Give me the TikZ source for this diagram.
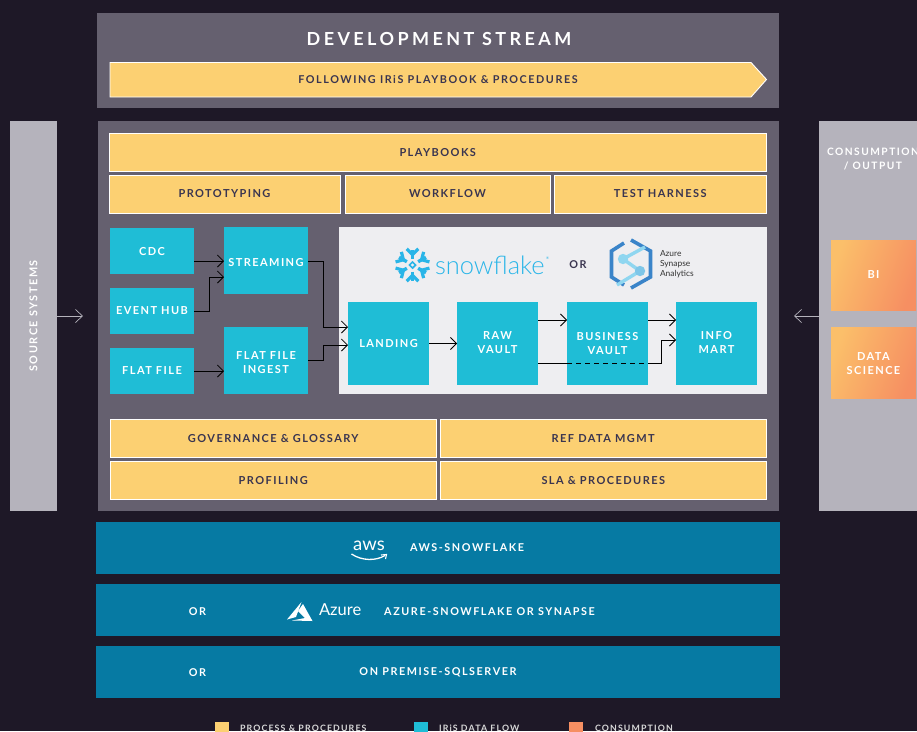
\documentclass[tikz,border=0pt]{standalone}
\usepackage{fontspec}
\usetikzlibrary{arrows.meta,calc}
\setmainfont{Lato}[LetterSpace=13]
\newfontfamily\wide{Lato}[LetterSpace=14.5]
\newfontfamily\widest{Lato}[LetterSpace=19]
\newfontfamily\logo{Lato Light}
\newfontfamily\logoreg{Lato}
\definecolor{bgc}{HTML}{1E1827}
\definecolor{panel}{HTML}{65606F}
\definecolor{sidec}{HTML}{B5B3BC}
\definecolor{yel}{HTML}{FCD072}
\definecolor{cya}{HTML}{1FBDD6}
\definecolor{teal}{HTML}{067AA3}
\definecolor{inkc}{HTML}{3A3550}
\definecolor{paper}{HTML}{EEEEF1}
\definecolor{sfblue}{HTML}{29B5E8}
\definecolor{oa}{HTML}{FBBF6A}
\definecolor{ob}{HTML}{F68F62}
\definecolor{hexb}{HTML}{3A84C9}
\definecolor{hexl}{HTML}{8FD6F0}
\tikzset{
  box/.style={inner sep=0pt,outer sep=0pt,align=center,font=\fontsize{11}{14.5}\selectfont\bfseries},
  panelbox/.style={box,fill=panel},
  sidebox/.style={box,fill=sidec},
  procbox/.style={box,fill=yel,draw=white,line width=.9pt,text=inkc},
  flowbox/.style={box,fill=cya,text=white},
  tealbox/.style={box,fill=teal},
  consbox/.style={box,left color=oa,right color=ob,shading angle=70,text=white},
  lab/.style={inner sep=0pt,outer sep=0pt,align=center,text=white,font=\fontsize{10.8}{14}\selectfont\bfseries\wide},
  flow/.style={draw=black,line width=.9pt,-{Straight Barb[length=6pt,width=12pt,line width=.8pt]}},
  plainflow/.style={draw=black,line width=.9pt},
  sidearrow/.style={draw=sidec,line width=.8pt,-{Straight Barb[length=7pt,width=13pt,line width=.7pt]}},
}
% name, x0, y0, x1, y1, style, text
\newcommand{\bx}[7]{\node[#6,minimum width={(#4-#2)*1pt},minimum height={(#5-#3)*1pt}] (#1) at ({(#2+#4)/2},{(#3+#5)/2}) {#7};}
\newcommand{\dn}[2]{\raisebox{-#1pt}[\height][\depth]{#2}}
\begin{document}
\begin{tikzpicture}[x=1pt,y=-1pt]
\useasboundingbox (0,0) rectangle (917,731);
\clip (0,0) rectangle (917,731);
\fill[bgc] (0,0) rectangle (917,731);
% panels
\bx{dev}{97}{13}{779}{108}{panelbox}{}
\bx{main}{98}{121}{779}{511}{panelbox}{}
\bx{src}{10}{121}{57}{511}{sidebox}{}
\bx{cons}{819}{121}{917}{511}{sidebox}{}
\node[lab,font=\fontsize{18}{20}\selectfont\bfseries\widest] (devt) at (439,38.5) {DEVELOPMENT STREAM};
% banner
\draw[fill=yel,draw=white,line width=.9pt] (110,62.5) -- (751,62.5) -- (766.5,79.5) -- (751,97) -- (110,97) -- cycle;
\node[lab,text=inkc] (bant) at (438,79.5) {FOLLOWING IRiS PLAYBOOK \& PROCEDURES};
% process
\bx{play}{109}{133}{766.5}{171}{procbox}{\dn{1}{PLAYBOOKS}}
\bx{proto}{109}{175}{340}{213}{procbox}{PROTOTYPING}
\bx{wf}{345}{175}{550}{213}{procbox}{WORKFLOW}
\bx{test}{554}{175}{766.5}{213}{procbox}{TEST HARNESS}
\bx{gov}{110}{419}{436.5}{457}{procbox}{\dn{1}{GOVERNANCE \& GLOSSARY}}
\bx{ref}{440}{419}{766.5}{457}{procbox}{\dn{1}{REF DATA MGMT}}
\bx{prof}{110}{461}{436.5}{499}{procbox}{\dn{1}{PROFILING}}
\bx{sla}{440}{461}{766.5}{499}{procbox}{\dn{1}{SLA \& PROCEDURES}}
% white panel
\bx{wh}{339}{227}{767}{394}{box,fill=paper}{}
% flow boxes
\bx{cdc}{110}{228}{194}{274}{flowbox}{\dn{1}{CDC}}
\bx{hub}{110}{288}{194}{334}{flowbox}{EVENT HUB}
\bx{ff}{110}{348}{194}{394}{flowbox}{FLAT FILE}
\bx{str}{224}{227}{308}{294}{flowbox}{\dn{2}{STREAMING}}
\bx{ing}{224}{327}{308}{394}{flowbox}{\dn{2}{\shortstack{FLAT FILE\\[2.5pt]INGEST}}}
\bx{land}{348}{302}{429}{385}{flowbox}{LANDING}
\bx{raw}{457}{302}{538}{385}{flowbox}{\dn{-1}{\shortstack{RAW\\[2.5pt]VAULT}}}
\bx{biz}{567}{302}{648}{385}{flowbox}{BUSINESS\\VAULT}
\bx{info}{676}{302}{757}{385}{flowbox}{\dn{-1}{\shortstack{INFO\\[2.5pt]MART}}}
% connectors
\coordinate (a1) at ([yshift=-10pt]cdc.east);
\draw[flow] (a1) -- (a1 -| str.west);
\coordinate (a2) at ([yshift=-.5pt]hub.east);
\coordinate (a2t) at ([yshift=-16.5pt]str.west);
\draw[flow] (a2) -- ++(15,0) |- (a2t);
\coordinate (a3) at ([yshift=0pt]ff.east);
\draw[flow] (a3) -- (a3 -| ing.west);
\coordinate (a4) at ([yshift=-.5pt]str.east);
\coordinate (a4t) at ([yshift=16.5pt]land.west);
\draw[flow] (a4) -- ++(15,0) |- (a4t);
\coordinate (a5) at ([yshift=0pt]ing.east);
\coordinate (a5t) at ([yshift=-1.5pt]land.west);
\draw[flow] (a5) -- ++(15,0) |- (a5t);
\draw[flow] (land.east) -- (land.east -| raw.west);
\coordinate (a6) at ([yshift=23.5pt]raw.east);
\draw[flow] (a6) -- (a6 -| biz.west);
\coordinate (a7) at ([yshift=-19.5pt]raw.east);
\coordinate (a7b) at ([yshift=-19.5pt]biz.west);
\coordinate (a7c) at ([yshift=-19.5pt]biz.east);
\coordinate (a7t) at ([yshift=3.5pt]info.west);
\draw[plainflow] (a7) -- (a7b);
\draw[plainflow,dashed,dash pattern=on 5pt off 4pt] (a7b) -- (a7c);
\draw[flow] (a7c) -- ++(13,0) |- (a7t);
\coordinate (a8) at ([yshift=23.5pt]biz.east);
\draw[flow] (a8) -- (a8 -| info.west);
% side arrows
\coordinate (sb) at (83,316);
\draw[sidearrow] (src.east |- sb) -- (sb);
\coordinate (sc) at (794,316);
\draw[sidearrow] (cons.west |- sc) -- (sc);
% side text
\node[lab,rotate=90] (srct) at (33.5,316) {SOURCE SYSTEMS};
\node[lab,font=\fontsize{10.2}{14}\selectfont\bfseries\wide] (const) at (873,159) {CONSUMPTION\\/ OUTPUT};
\bx{bi}{831}{240}{916}{310}{consbox}{BI}
\bx{ds}{831}{327}{916}{398}{consbox}{\dn{1}{\shortstack{DATA\\[2.5pt]SCIENCE}}}
% snowflake logo
\begin{scope}[shift={(412.5,265)},draw=sfblue,line width=3.4pt]
\foreach \a in {30,90,150,210,270,330}{
  \begin{scope}[rotate=\a]
  \draw (6.5,0) -- (15.5,0);
  \draw[line width=3.2pt] (16.2,-5.8) -- (10.5,0) -- (16.2,5.8);
  \end{scope}
}
\draw[line width=1.6pt,rotate=45] (-2.2,-2.2) rectangle (2.2,2.2);
\end{scope}
\node[inner sep=0pt,outer sep=0pt,anchor=base west,text=sfblue,font=\fontsize{25.5}{26}\selectfont\logo] (sft) at (435,274) {snowflake};
\node[inner sep=0pt,outer sep=0pt,text=sfblue,font=\fontsize{3.5}{4}\selectfont\logoreg] (sfr) at (547.5,258) {®};
\node[lab,text=inkc] (ort) at (578,264.5) {OR};
% synapse logo
\begin{scope}[shift={(631,264)}]
\draw[hexb,line width=3.6pt] (-7,-21) -- (-19.5,-13) -- (-19.5,13) -- (-7,21);
\draw[hexb,line width=3.6pt] (0,-24) -- (19.5,-13) -- (19.5,13) -- (0,24);
\draw[hexl,line width=3.4pt] (14,-17) -- (-8,-5) -- (9,7) -- (-14,21);
\fill[hexl] (-8,-5) circle (5.2);
\fill[hexl!80!hexb] (9,7) circle (5.2);
\end{scope}
\node[inner sep=0pt,outer sep=0pt,anchor=west,align=left,text=black!80,font=\fontsize{8.4}{10}\selectfont\logoreg] (synt) at (660,264.5) {Azure\\Synapse\\Analytics};
% bottom bars
\bx{b1}{96}{522}{780}{574}{tealbox}{}
\bx{b2}{96}{584}{780}{636}{tealbox}{}
\bx{b3}{96}{646}{780}{698}{tealbox}{}
\node[inner sep=0pt,outer sep=0pt,text=white,font=\fontsize{18.5}{19}\selectfont\logoreg] (awst) at (369,546) {aws};
\draw[white,line width=1.3pt] (351.5,554) .. controls (362,561) and (376,561) .. (385,555.5);
\draw[white,line width=1.1pt] (381,555) -- (386.5,554.5) -- (385.5,559);
\node[lab] (t1) at (467,548) {AWS-SNOWFLAKE};
\node[lab] (o2) at (197.5,611.5) {OR};
\fill[white] (287,619.5) -- (301.5,602) -- (296,617) -- cycle;
\fill[white] (303,604) -- (312.5,621) -- (292,620.5) -- (305,618) -- (298,611) -- cycle;
\node[inner sep=0pt,outer sep=0pt,anchor=west,text=white,font=\fontsize{16.5}{17}\selectfont\logoreg] (azt) at (319,610) {Azure};
\node[lab] (t2) at (489.5,611.5) {AZURE-SNOWFLAKE OR SYNAPSE};
\node[lab] (o3) at (197.5,672.5) {OR};
\node[lab] (t3) at (438,672.5) {ON PREMISE-SQLSERVER};
% legend
\bx{l1}{215}{722}{229}{736}{box,fill=yel}{}
\bx{l2}{414}{722}{428}{736}{box,fill=cya}{}
\bx{l3}{569}{722}{583}{736}{box,fill=ob}{}
\tikzset{legt/.style={lab,anchor=west,text=white!85!black,font=\fontsize{8.8}{10}\selectfont\bfseries}}
\node[legt] (lt1) at (240,728.5) {PROCESS \& PROCEDURES};
\node[legt] (lt2) at (439,728.5) {IRiS DATA FLOW};
\node[legt] (lt3) at (595,728.5) {CONSUMPTION};
\end{tikzpicture}
\end{document}
